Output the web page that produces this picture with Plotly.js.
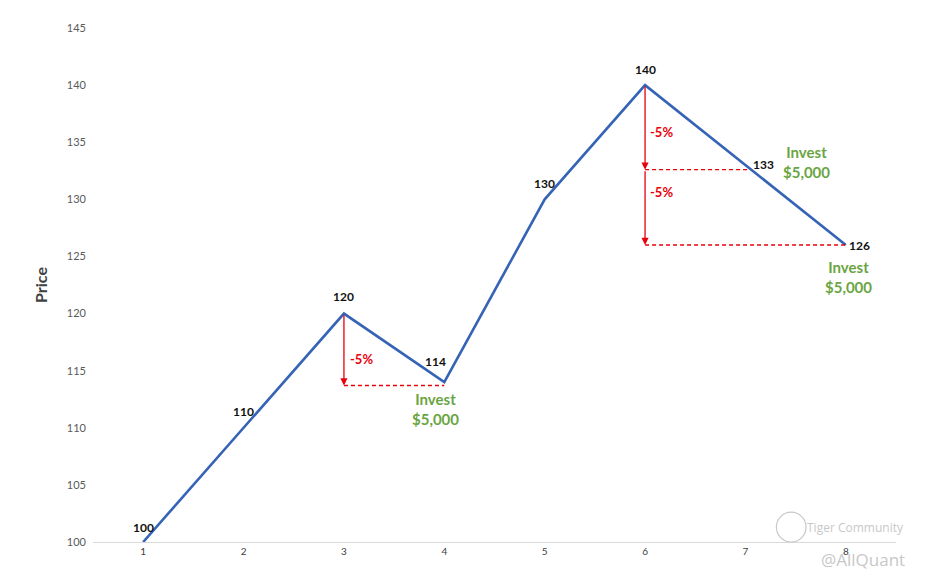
<!DOCTYPE html>
<html>
<head>
<meta charset="utf-8">
<script src="https://cdn.plot.ly/plotly-3.0.1.min.js"></script>
<style>html,body{margin:0;padding:0;background:#fff;}#chart{width:925px;height:580px;}</style>
</head>
<body>
<div id="chart"></div>
<script>
// Data
const periods = [1, 2, 3, 4, 5, 6, 7, 8];
const prices = [100, 110, 120, 114, 130, 140, 133, 126];
const yTicks = [100, 105, 110, 115, 120, 125, 130, 135, 140, 145];

// Drop markers
const dropFrom = [3, 6, 6];
const dropTop = [120, 140, 132.6];
const dropBottom = [113.7, 132.6, 126];
const dropDashEnd = [4, 7.03, 8];
const dropText = ["-5%", "-5%", "-5%"];

// Invest notes anchored to periods/prices
const investX = [4, 7, 8];
const investY = [114, 133, 126];
const investText = ["Invest<br>$5,000", "Invest<br>$5,000", "Invest<br>$5,000"];

const font = "Lato, 'Open Sans', 'Liberation Sans', sans-serif";
const red = "#e8000b";
const green = "#6aa543";

const trace = {
  x: periods, y: prices, type: "scatter", mode: "lines",
  line: {color: "#3563b5", width: 2.6}, hoverinfo: "skip"
};

// Data label offsets (pixels)
const labelShift = [[0,15],[0,16],[0,17],[-9,21],[0,16],[0,16],[18,1],[14,0]];
const dropLabelShift = [[18,-9],[16,-5],[16,15]];
const investShift = [[-9,-27],[61,3],[3,-32]];

const annotations = [];
periods.forEach((p, i) => {
  annotations.push({x: p, y: prices[i], xref: "x", yref: "y", text: String(prices[i]),
    showarrow: false, xshift: labelShift[i][0], yshift: labelShift[i][1],
    font: {family: font, size: 12, color: "#111", weight: "bold"}});
});
const shapes = [];
dropFrom.forEach((p, i) => {
  shapes.push({type: "line", xref: "x", yref: "y", x0: p, x1: dropDashEnd[i],
    y0: dropBottom[i], y1: dropBottom[i], line: {color: red, width: 1.3, dash: "4px,3px"}});
  annotations.push({x: p, y: dropBottom[i], ax: p, ay: dropTop[i], xref: "x", yref: "y",
    axref: "x", ayref: "y", text: "", showarrow: true, arrowhead: 2, arrowsize: 1.1,
    arrowwidth: 1.3, arrowcolor: red, standoff: 0, startstandoff: 0});
  annotations.push({x: p, y: (dropTop[i] + dropBottom[i]) / 2, xref: "x", yref: "y",
    text: dropText[i], showarrow: false, xshift: dropLabelShift[i][0], yshift: dropLabelShift[i][1],
    font: {family: font, size: 13, color: red, weight: "bold"}});
});
investX.forEach((p, i) => {
  annotations.push({x: p, y: investY[i], xref: "x", yref: "y", text: investText[i],
    showarrow: false, xshift: investShift[i][0], yshift: investShift[i][1],
    font: {family: font, size: 15, color: green, weight: "bold"}});
});
// watermarks
annotations.push({x: 1.012, y: 0, xref: "paper", yref: "paper", xanchor: "right", yanchor: "bottom",
  text: "Tiger Community", showarrow: false, yshift: 4,
  font: {family: "'Open Sans', sans-serif", size: 12, color: "#c8c8c8"}});
annotations.push({x: 1.014, y: 0, xref: "paper", yref: "paper", xanchor: "right", yanchor: "top",
  text: "@AllQuant", showarrow: false, yshift: -4,
  font: {family: "'Open Sans', sans-serif", size: 17, color: "#c8c8c8"}});

shapes.push({type: "circle", xref: "paper", yref: "paper", x0: 0.851, x1: 0.888, y0: 0.0, y1: 0.058,
  line: {color: "#c8c8c8", width: 1.2}});

const layout = {
  width: 925, height: 580,
  margin: {l: 93, r: 29, t: 28, b: 38},
  paper_bgcolor: "#fff", plot_bgcolor: "#fff",
  showlegend: false,
  xaxis: {range: [0.5, 8.5], tickvals: periods, showgrid: false, zeroline: false,
    showline: true, linecolor: "#d9d9d9", linewidth: 1.3, ticks: "",
    tickfont: {family: font, size: 10, color: "#404040"}, fixedrange: true},
  yaxis: {range: [100, 145], tickvals: yTicks, showgrid: false, zeroline: false,
    showline: false, ticks: "", ticklabelstandoff: 6,
    tickfont: {family: font, size: 11, color: "#595959"},
    title: {text: "Price", standoff: 15, font: {family: font, size: 16, color: "#404040", weight: "bold"}},
    fixedrange: true},
  annotations: annotations, shapes: shapes
};

Plotly.newPlot("chart", [trace], layout, {displayModeBar: false, staticPlot: true});
</script>
</body>
</html>
